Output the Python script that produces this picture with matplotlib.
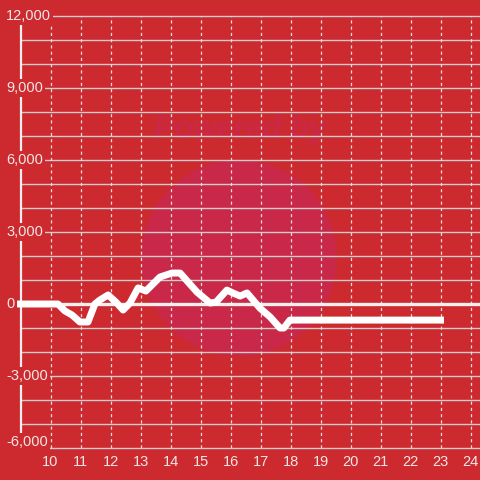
import matplotlib
matplotlib.use("Agg")
import matplotlib.pyplot as plt
from matplotlib.patches import Ellipse

# ---- data ----
x_vals = [9.0, 10.25, 10.48, 10.72, 10.98, 11.25, 11.48, 11.65, 11.92, 12.18,
          12.42, 12.65, 12.92, 13.18, 13.65, 14.05, 14.32, 14.88, 15.32, 15.52,
          15.88, 16.08, 16.32, 16.55, 16.98, 17.32, 17.65, 17.78, 17.98, 18.32, 23.0]
y_vals = [0, 0, -290, -460, -750, -750, 0, 170, 375, 80,
          -250, 40, 670, 540, 1125, 1290, 1290, 500, 40, 80,
          580, 460, 330, 460, -170, -540, -1000, -1000, -670, -670, -670]
x_ticks = list(range(10, 25))
y_ticks = [-6000, -3000, 0, 3000, 6000, 9000, 12000]
y_tick_labels = ["-6,000", "-3,000", "0", "3,000", "6,000", "9,000", "12,000"]
y_grid = list(range(-6000, 12001, 1000))

BG = "#cd2a2f"
TXT = "#f3e6e6"
plt.rcParams['font.family'] = ['Liberation Sans', 'DejaVu Sans']

fig = plt.figure(figsize=(4.8, 4.8), dpi=100)
fig.patch.set_facecolor(BG)
ax = fig.add_axes([0, 0, 1, 1])
ax.set_facecolor(BG)
ax.set_axis_off()

# pixel mapping: x=10 at px 50.5, 30 px per unit; y=0 at py 304, 24 px per 1000
x0 = 10 - 50.5 / 30
x1 = 10 + (480 - 50.5) / 30
y1 = 304 / 24 * 1000
y0 = (304 - 480) / 24 * 1000
ax.set_xlim(x0, x1)
ax.set_ylim(y0, y1)

# watermark circle
circ = Ellipse((10 + (239 - 50.5) / 30, (304 - 258) / 24 * 1000), 2 * 98 / 30, 2 * 98 / 24 * 1000,
               facecolor="#c92848", edgecolor="none", zorder=0.5)
ax.add_patch(circ)
ax.text(10 + (240 - 50.5) / 30, (304 - 130) / 24 * 1000, "Powered by", color="#c92848",
        fontsize=22, fontweight="bold", fontstyle="italic", ha="center", va="center", zorder=0.6)

# horizontal grid
for g in y_grid:
    ax.plot([9, x1], [g, g], color="#d2cccc", lw=1.0, zorder=1, solid_capstyle="butt")
# vertical dashed grid
for t in x_ticks:
    ax.plot([t, t], [-6000, 12000], color="#e6dede", lw=0.9, ls=(0, (2.5, 2.5)), zorder=1)

# zero line
ax.plot([9, x1], [0, 0], color="#f4eeee", lw=2.4, zorder=2, solid_capstyle="butt")
# y spine
ax.plot([9, 9], [-6000, 12000], color="#f4eeee", lw=1.6, zorder=2, solid_capstyle="butt")

# data line
ax.plot(x_vals, y_vals, color="white", lw=5.0, zorder=5, solid_joinstyle="round",
        solid_capstyle="projecting")

# y tick labels
lx = x0 + 6 / 30
for v, lab in zip(y_ticks, y_tick_labels):
    yy = v if v != -6000 else v + 6 / 24 * 1000
    ax.text(lx, yy, lab, color=TXT, fontsize=10.5, ha="left", va="center", zorder=4,
            bbox=dict(facecolor=BG, edgecolor="none", pad=1.5))

# x tick labels
for t in x_ticks:
    ax.text(t, (304 - 462) / 24 * 1000, str(t), color=TXT, fontsize=10.5,
            ha="center", va="center", zorder=4)

fig.savefig("out.png", dpi=100, facecolor=BG)
